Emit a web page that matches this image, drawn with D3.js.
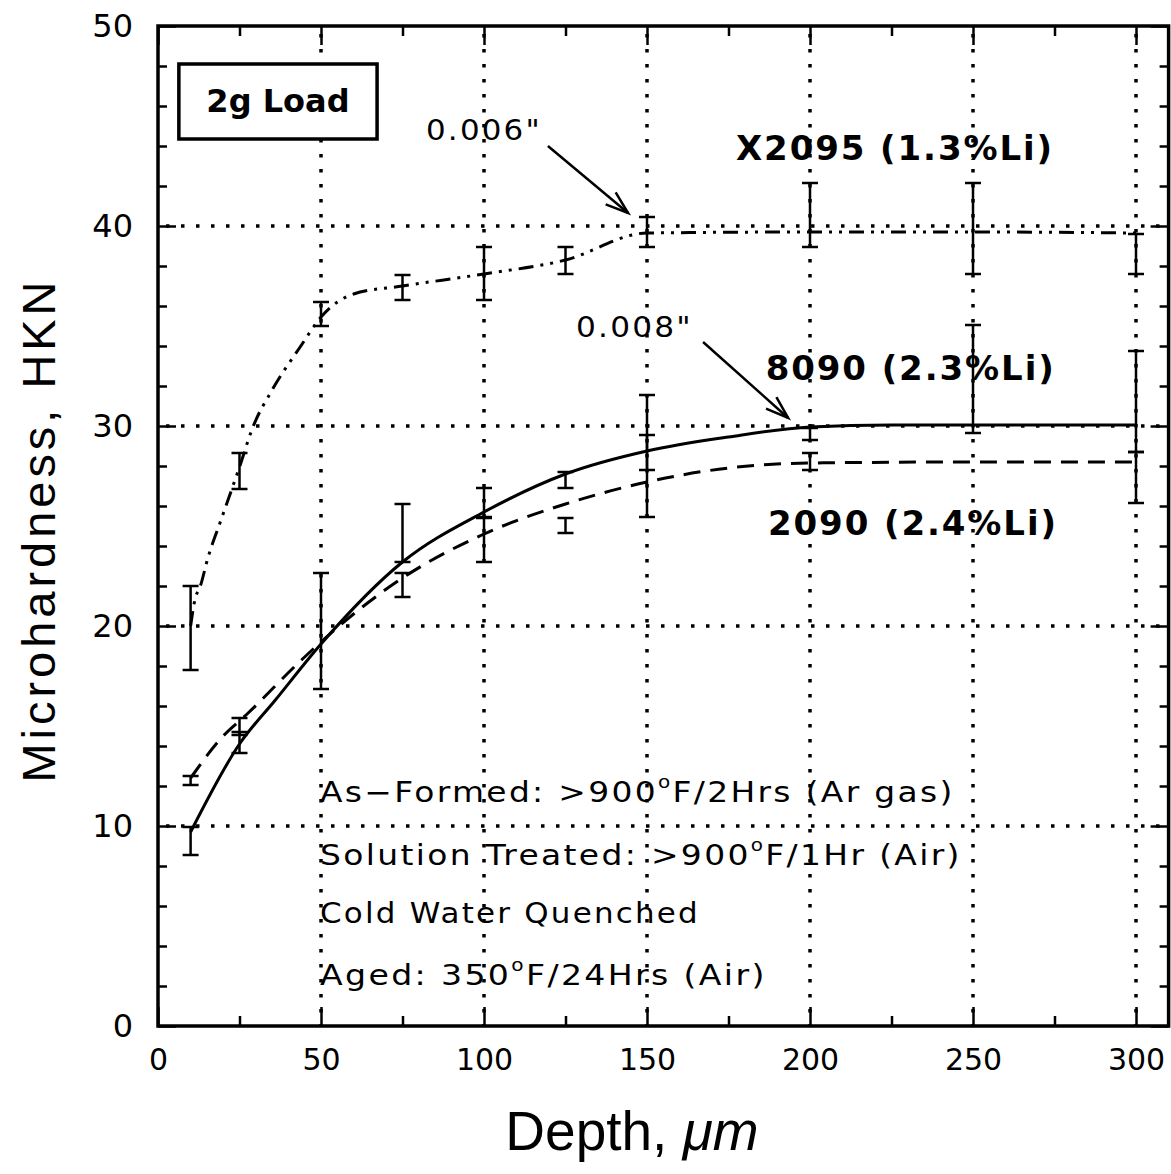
<!DOCTYPE html>
<html><head><meta charset="utf-8">
<script src="https://cdn.jsdelivr.net/npm/d3@7"></script>
<style>html,body{margin:0;padding:0;background:#fff;} svg{display:block;}</style>
</head><body>
<svg id="chart" width="1171" height="1174"></svg>
<script>
// ---------------- DATA ----------------
const depth = [10, 25, 50, 75, 100, 125, 150, 200, 250, 300];

// error bars (low / high)
const x2095Lo = [17.8, 26.85, 35.0, 36.3, 36.3, 37.6, 38.95, 38.95, 37.6, 37.6];
const x2095Hi = [22.0, 28.65, 36.2, 37.55, 38.95, 38.95, 40.45, 42.15, 42.15, 39.6];
const a8090Lo = [8.55, 13.65, 16.85, 23.2, 25.4, 26.9, 27.8, 29.3, 29.65, 28.7];
const a8090Hi = [9.95, 14.7, 22.65, 26.1, 26.9, 27.7, 31.55, 29.9, 35.05, 33.75];
const a2090Lo = [12.05, 14.55, null, 21.45, 23.2, 24.65, 25.45, 27.8, null, 26.15];
const a2090Hi = [12.5, 15.4, null, 22.65, 25.45, 25.4, 29.55, 28.65, null, 28.7];

// fitted curves drawn through the data
const x2095CurveDepth = [10, 11.3, 13, 15.3, 19, 25, 29, 35, 43.6, 50, 60, 75, 100, 125, 150, 200, 250, 300];
const x2095CurveHkn   = [20.0, 21.3, 22.0, 23.4, 25.15, 27.95, 29.9, 31.8, 33.95, 35.45, 36.6, 37.0, 37.6, 38.3, 39.65, 39.7, 39.7, 39.65];
const a8090CurveDepth = [10, 25, 36, 50, 75, 100, 125, 150, 175, 200, 225, 250, 300];
const a8090CurveHkn   = [9.7, 14.1, 16.3, 19.1, 23.2, 25.7, 27.6, 28.75, 29.45, 29.95, 30.05, 30.05, 30.05];
const a2090CurveDepth = [10, 20, 27, 44, 52, 75, 100, 125, 150, 175, 200, 250, 300];
const a2090CurveHkn   = [12.4, 14.5, 15.55, 18.3, 19.5, 22.4, 24.6, 26.1, 27.2, 27.9, 28.15, 28.2, 28.2];

const seriesNames = ["X2095 (1.3%Li)", "8090 (2.3%Li)", "2090 (2.4%Li)"];

// axes
const xTickValues = [0, 50, 100, 150, 200, 250, 300];
const xMinorTicks = [25, 75, 125, 175, 225, 275];
const yTickValues = [0, 10, 20, 30, 40, 50];
const yMinorTicks = [2,4,6,8,12,14,16,18,22,24,26,28,32,34,36,38,42,44,46,48];
const xGridValues = [50, 100, 150, 200, 250, 300];
const yGridValues = [10, 20, 30, 40];
const xTitle = "Depth, ";
const xTitleUnit = "\u03bcm";
const yTitle = "Microhardness, HKN";
const loadLabel = "2g Load";
const depthNotes = ["0.006\"", "0.008\""];
const conditionLines = [
  ["As\u2212Formed: >900", "F/2Hrs (Ar gas)"],
  ["Solution Treated: >900", "F/1Hr (Air)"],
  ["Cold Water Quenched", null],
  ["Aged: 350", "F/24Hrs (Air)"]
];

// ---------------- LAYOUT ----------------
const svg = d3.select("#chart");
const x = d3.scaleLinear().domain([0, 310]).range([158, 1168.6]);
const y = d3.scaleLinear().domain([0, 50]).range([1026, 26]);
const L = 158, R = 1168.6, T = 26, B = 1026;

// grid (dotted)
const grid = svg.append("g").attr("stroke", "#000").attr("stroke-width", 3.5).attr("stroke-dasharray", "3.5 11.5");
grid.selectAll("line.v").data(xGridValues).join("line")
  .attr("x1", d => x(d)).attr("x2", d => x(d)).attr("y1", T + 8).attr("y2", B);
grid.selectAll("line.h").data(yGridValues).join("line")
  .attr("y1", d => y(d)).attr("y2", d => y(d)).attr("x1", L + 8).attr("x2", R);

// curves
const lineGen = d3.line().x(d => x(d[0])).y(d => y(d[1])).curve(d3.curveMonotoneX);
const curves = [
  {xs: x2095CurveDepth, ys: x2095CurveHkn, dash: "15 7 3 7 3 7"},
  {xs: a8090CurveDepth, ys: a8090CurveHkn, dash: null},
  {xs: a2090CurveDepth, ys: a2090CurveHkn, dash: "17 10"}
];
svg.append("g").selectAll("path").data(curves).join("path")
  .attr("d", c => lineGen(c.xs.map((v, i) => [v, c.ys[i]])))
  .attr("fill", "none").attr("stroke", "#000").attr("stroke-width", 3)
  .attr("stroke-dasharray", c => c.dash);

// error bars
const bars = [];
[[x2095Lo, x2095Hi], [a8090Lo, a8090Hi], [a2090Lo, a2090Hi]].forEach(([lo, hi]) => {
  depth.forEach((d, i) => { if (lo[i] != null) bars.push({d, lo: lo[i], hi: hi[i]}); });
});
const eb = svg.append("g").attr("stroke", "#000").attr("stroke-width", 2.5);
eb.selectAll("line.s").data(bars).join("line")
  .attr("x1", b => x(b.d)).attr("x2", b => x(b.d)).attr("y1", b => y(b.lo)).attr("y2", b => y(b.hi));
const caps = bars.flatMap(b => [{d: b.d, v: b.lo}, {d: b.d, v: b.hi}]);
eb.selectAll("line.c").data(caps).join("line")
  .attr("x1", c => x(c.d) - 8).attr("x2", c => x(c.d) + 8).attr("y1", c => y(c.v)).attr("y2", c => y(c.v));

// ticks (inward) on all four sides
function tickAxis(axisFn, scale, vals, size, tr) {
  svg.append("g").attr("transform", tr)
    .call(axisFn(scale).tickValues(vals).tickSize(size).tickFormat(""))
    .call(g => g.select(".domain").remove())
    .call(g => g.selectAll(".tick line").attr("stroke", "#000").attr("stroke-width", 2.5));
}
tickAxis(d3.axisBottom, x, xTickValues, -19, `translate(0,${B})`);
tickAxis(d3.axisBottom, x, xMinorTicks, -10, `translate(0,${B})`);
tickAxis(d3.axisTop, x, xTickValues, -19, `translate(0,${T})`);
tickAxis(d3.axisTop, x, xMinorTicks, -10, `translate(0,${T})`);
tickAxis(d3.axisLeft, y, yTickValues, -18, `translate(${L},0)`);
tickAxis(d3.axisLeft, y, yMinorTicks, -9, `translate(${L},0)`);
tickAxis(d3.axisRight, y, yTickValues, -18, `translate(${R},0)`);
tickAxis(d3.axisRight, y, yMinorTicks, -9, `translate(${R},0)`);

// tick labels
svg.append("g").attr("transform", `translate(0,${B})`)
  .call(d3.axisBottom(x).tickValues(xTickValues).tickSize(0).tickPadding(22.7).tickFormat(d3.format("d")))
  .call(g => g.select(".domain").remove())
  .call(g => g.selectAll("text").attr("font-family", "DejaVu Sans").attr("font-size", 30).attr("fill", "#000"));
svg.append("g").attr("transform", `translate(${L},0)`)
  .call(d3.axisLeft(y).tickValues(yTickValues).tickSize(0).tickPadding(25).tickFormat(d3.format("d")))
  .call(g => g.select(".domain").remove())
  .call(g => g.selectAll("text").attr("font-family", "DejaVu Sans").attr("font-size", 32).attr("fill", "#000"));

// border
svg.append("rect").attr("x", L).attr("y", T).attr("width", R - L).attr("height", B - T)
  .attr("fill", "none").attr("stroke", "#000").attr("stroke-width", 3.5);

// helpers to fit a text to a measured width
function fit(sel, target) {
  const n = sel.node().textContent.length;
  const w = sel.node().getComputedTextLength();
  sel.attr("letter-spacing", ((target - w) / n).toFixed(2));
}
// wide plotter-like text: stretch glyphs horizontally to the target width
function wideText(px, py, target, size, spacing) {
  const g = svg.append("g");
  const t = g.append("text").attr("x", 0).attr("y", 0)
    .attr("font-family", "DejaVu Sans").attr("font-size", size).attr("letter-spacing", spacing);
  return {g, t, done() {
    const w = t.node().getComputedTextLength();
    g.attr("transform", `translate(${px},${py}) scale(${(target / w).toFixed(4)},1)`);
  }};
}

// axis titles
const xt = svg.append("text").attr("x", 632).attr("y", 1150).attr("text-anchor", "middle")
  .attr("font-family", "Liberation Sans, Arial, sans-serif").attr("font-size", 55);
xt.append("tspan").text(xTitle);
xt.append("tspan").attr("font-style", "italic").text(xTitleUnit);

const yt = svg.append("text").attr("transform", "translate(55,530) rotate(-90)").attr("text-anchor", "middle")
  .attr("font-family", "Liberation Sans, Arial, sans-serif").attr("font-size", 47).text(yTitle);
fit(yt, 505);

// load box
svg.append("rect").attr("x", x(6.4)).attr("y", y(48.1)).attr("width", x(67.2) - x(6.4)).attr("height", y(44.35) - y(48.1))
  .attr("fill", "#fff").attr("stroke", "#000").attr("stroke-width", 3.5);
svg.append("text").attr("x", x(36.8)).attr("y", y(45.7)).attr("text-anchor", "middle")
  .attr("font-family", "DejaVu Sans").attr("font-weight", "bold").attr("font-size", 32).text(loadLabel);

// series labels
const labelLayout = [[177.3, 43.3, 318], [186.4, 32.3, 290], [187.1, 24.55, 290]];
seriesNames.forEach((s, i) => {
  const [lx, ly, w] = labelLayout[i];
  const t = svg.append("text").attr("x", x(lx)).attr("y", y(ly))
    .attr("font-family", "DejaVu Sans").attr("font-weight", "bold").attr("font-size", 34).text(s);
  fit(t, w);
});

// depth notes + arrows
const noteLayout = [[82.2, 44.3, 116], [128.2, 34.45, 117]];
depthNotes.forEach((s, i) => {
  const [lx, ly, w] = noteLayout[i];
  const wt = wideText(x(lx), y(ly), w, 28, 2);
  wt.t.text(s);
  wt.done();
});
const arrows = [[[119.6, 44.0], [144.2, 40.65]], [[167.2, 34.2], [193.3, 30.4]]];
const ag = svg.append("g").attr("stroke", "#000").attr("stroke-width", 2.5).attr("fill", "none");
arrows.forEach(([a, b]) => {
  const x1 = x(a[0]), y1 = y(a[1]), x2 = x(b[0]), y2 = y(b[1]);
  ag.append("line").attr("x1", x1).attr("y1", y1).attr("x2", x2).attr("y2", y2);
  const ang = Math.atan2(y1 - y2, x1 - x2), len = 24, spread = 0.33;
  ag.append("path").attr("d",
    `M${x2 + len * Math.cos(ang + spread)},${y2 + len * Math.sin(ang + spread)} L${x2},${y2} L${x2 + len * Math.cos(ang - spread)},${y2 + len * Math.sin(ang - spread)}`);
});

// condition text
const condLayout = [[49.7, 11.2, 635], [49.7, 8.05, 642], [49.7, 5.15, 380], [49.7, 2.05, 447]];
conditionLines.forEach((parts, i) => {
  const [lx, ly, w] = condLayout[i];
  const wt = wideText(x(lx), y(ly), w, 28, 2);
  wt.t.append("tspan").text(parts[0]);
  if (parts[1]) {
    wt.t.append("tspan").attr("font-size", 17).attr("dy", -14).text("o");
    wt.t.append("tspan").attr("dy", 14).text(parts[1]);
  }
  wt.done();
});
</script>
</body></html>
